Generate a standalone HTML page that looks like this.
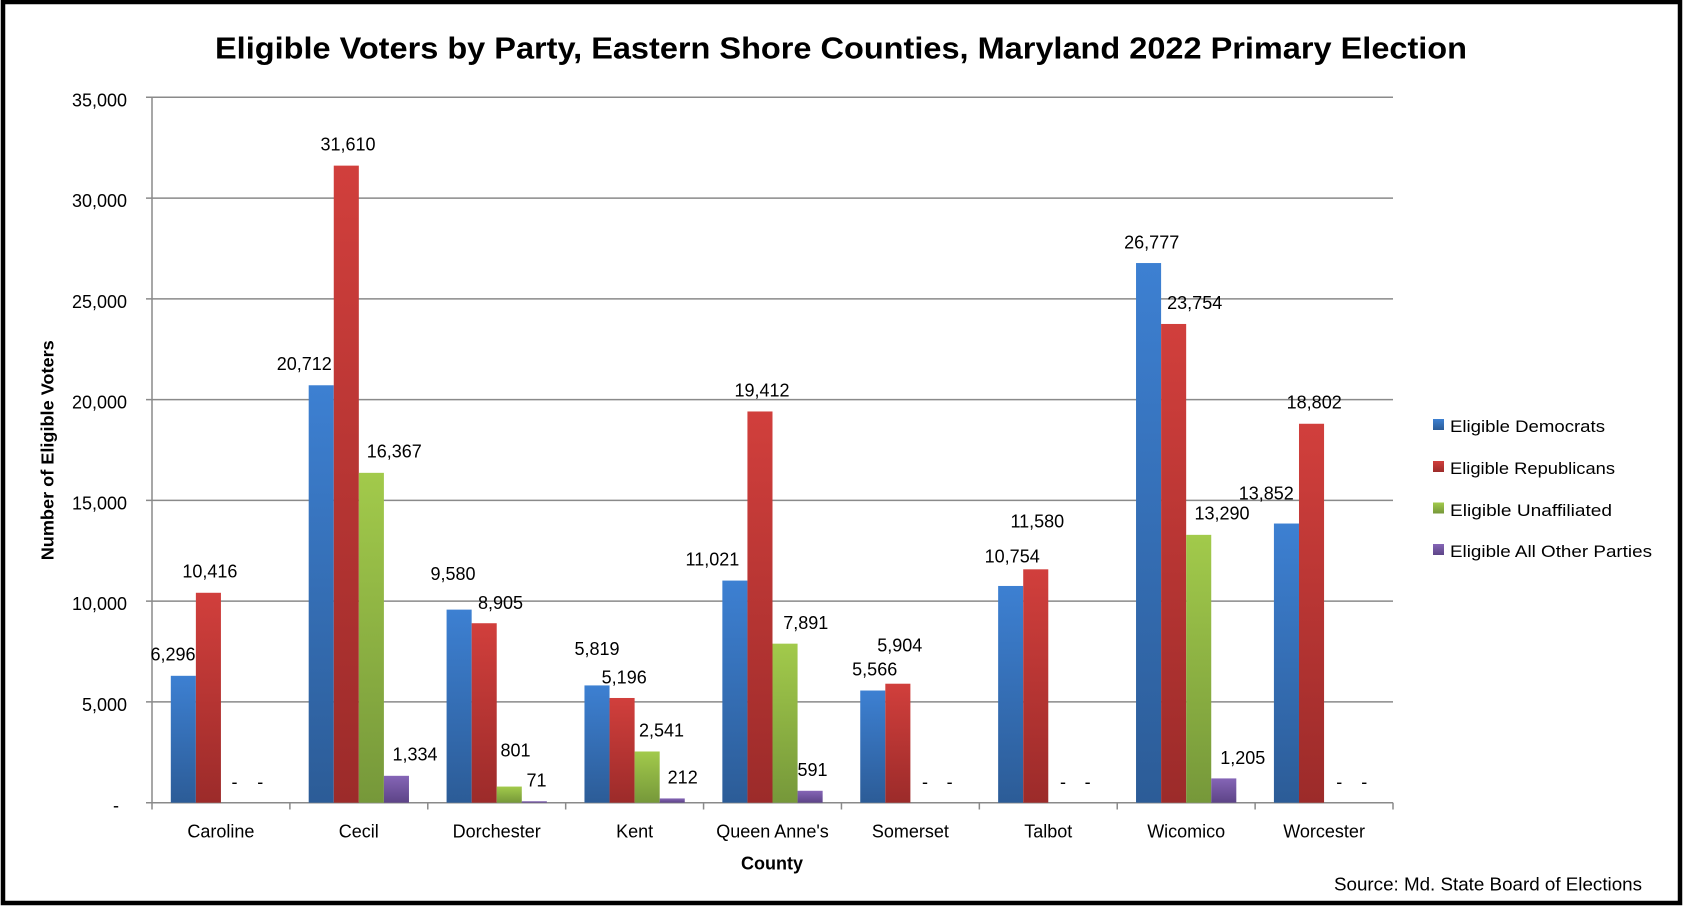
<!DOCTYPE html>
<html>
<head>
<meta charset="utf-8">
<style>
  html, body { margin:0; padding:0; background:#fff; }
  body { width:1684px; height:907px; overflow:hidden; }
  svg { display:block; }
  text { font-family: "Liberation Sans", Arial, sans-serif; fill:#000; }
</style>
</head>
<body>
<svg width="1684" height="907" viewBox="0 0 1684 907" xmlns="http://www.w3.org/2000/svg">
  <defs>
    <linearGradient id="gB" x1="0" y1="0" x2="0" y2="1">
      <stop offset="0" stop-color="#3d80d2"/>
      <stop offset="1" stop-color="#2c5c97"/>
    </linearGradient>
    <linearGradient id="gR" x1="0" y1="0" x2="0" y2="1">
      <stop offset="0" stop-color="#d13f3c"/>
      <stop offset="1" stop-color="#9c2b2a"/>
    </linearGradient>
    <linearGradient id="gG" x1="0" y1="0" x2="0" y2="1">
      <stop offset="0" stop-color="#a2ca4b"/>
      <stop offset="1" stop-color="#76983a"/>
    </linearGradient>
    <linearGradient id="gP" x1="0" y1="0" x2="0" y2="1">
      <stop offset="0" stop-color="#8565b6"/>
      <stop offset="1" stop-color="#5d4487"/>
    </linearGradient>
  </defs>

  <rect x="0" y="0" width="1684" height="907" fill="#fff"/>
  <!-- outer frame -->
  <rect x="3" y="2" width="1677" height="901" fill="none" stroke="#000" stroke-width="4.5"/>

  <!-- title -->
  <text x="215" y="58.5" font-size="31" font-weight="bold" textLength="1252" lengthAdjust="spacingAndGlyphs">Eligible Voters by Party, Eastern Shore Counties, Maryland 2022 Primary Election</text>

  <!-- gridlines -->
  <g stroke="#8a8a8a" stroke-width="1.5">
    <line x1="146" y1="97.31" x2="1393" y2="97.31"/>
    <line x1="146" y1="198.08" x2="1393" y2="198.08"/>
    <line x1="146" y1="298.85" x2="1393" y2="298.85"/>
    <line x1="146" y1="399.62" x2="1393" y2="399.62"/>
    <line x1="146" y1="500.39" x2="1393" y2="500.39"/>
    <line x1="146" y1="601.16" x2="1393" y2="601.16"/>
    <line x1="146" y1="701.93" x2="1393" y2="701.93"/>
    <line x1="146" y1="802.7" x2="1393" y2="802.7"/>
    <line x1="152" y1="97.31" x2="152" y2="809.5"/>
    <line x1="289.89" y1="802.7" x2="289.89" y2="809.5"/>
    <line x1="427.78" y1="802.7" x2="427.78" y2="809.5"/>
    <line x1="565.67" y1="802.7" x2="565.67" y2="809.5"/>
    <line x1="703.56" y1="802.7" x2="703.56" y2="809.5"/>
    <line x1="841.45" y1="802.7" x2="841.45" y2="809.5"/>
    <line x1="979.34" y1="802.7" x2="979.34" y2="809.5"/>
    <line x1="1117.23" y1="802.7" x2="1117.23" y2="809.5"/>
    <line x1="1255.12" y1="802.7" x2="1255.12" y2="809.5"/>
    <line x1="1393" y1="802.7" x2="1393" y2="809.5"/>
  </g>

  <!-- y tick labels -->
  <g font-size="18" text-anchor="end">
    <text x="127" y="106.3">35,000</text>
    <text x="127" y="207.1">30,000</text>
    <text x="127" y="307.9">25,000</text>
    <text x="127" y="408.6">20,000</text>
    <text x="127" y="509.4">15,000</text>
    <text x="127" y="610.2">10,000</text>
    <text x="127" y="710.9">5,000</text>
    <text x="119" y="811.7">-</text>
  </g>

  <!-- y axis title -->
  <text transform="translate(53.3,450.3) rotate(-90)" x="0" y="0" font-size="17.5" font-weight="bold" text-anchor="middle" textLength="220" lengthAdjust="spacingAndGlyphs">Number of Eligible Voters</text>

  <!-- bars: Democrats -->
  <g fill="url(#gB)">
    <rect x="170.8" y="675.81" width="25.07" height="126.89"/>
    <rect x="308.69" y="385.27" width="25.07" height="417.43"/>
    <rect x="446.58" y="609.62" width="25.07" height="193.08"/>
    <rect x="584.47" y="685.42" width="25.07" height="117.28"/>
    <rect x="722.36" y="580.58" width="25.07" height="222.12"/>
    <rect x="860.25" y="690.52" width="25.07" height="112.18"/>
    <rect x="998.14" y="585.96" width="25.07" height="216.74"/>
    <rect x="1136.03" y="263.04" width="25.07" height="539.66"/>
    <rect x="1273.92" y="523.53" width="25.07" height="279.17"/>
  </g>
  <!-- Republicans -->
  <g fill="url(#gR)">
    <rect x="195.87" y="592.78" width="25.07" height="209.92"/>
    <rect x="333.76" y="165.63" width="25.07" height="637.07"/>
    <rect x="471.65" y="623.23" width="25.07" height="179.47"/>
    <rect x="609.54" y="697.98" width="25.07" height="104.72"/>
    <rect x="747.43" y="411.47" width="25.07" height="391.23"/>
    <rect x="885.32" y="683.71" width="25.07" height="118.99"/>
    <rect x="1023.21" y="569.32" width="25.07" height="233.38"/>
    <rect x="1161.1" y="323.96" width="25.07" height="478.74"/>
    <rect x="1298.99" y="423.76" width="25.07" height="378.94"/>
  </g>
  <!-- Unaffiliated -->
  <g fill="url(#gG)">
    <rect x="358.83" y="472.84" width="25.07" height="329.86"/>
    <rect x="496.72" y="786.56" width="25.07" height="16.14"/>
    <rect x="634.61" y="751.49" width="25.07" height="51.21"/>
    <rect x="772.5" y="643.66" width="25.07" height="159.04"/>
    <rect x="1186.17" y="534.85" width="25.07" height="267.85"/>
  </g>
  <!-- Other -->
  <g fill="url(#gP)">
    <rect x="383.9" y="775.81" width="25.07" height="26.89"/>
    <rect x="521.79" y="801.27" width="25.07" height="1.43"/>
    <rect x="659.68" y="798.43" width="25.07" height="4.27"/>
    <rect x="797.57" y="790.79" width="25.07" height="11.91"/>
    <rect x="1211.24" y="778.41" width="25.07" height="24.29"/>
  </g>

  <!-- data labels -->
  <g font-size="18" text-anchor="middle">
    <text x="173" y="660.7">6,296</text>
    <text x="209.9" y="577.3">10,416</text>
    <text x="234.5" y="788">-</text>
    <text x="260.2" y="788">-</text>

    <text x="304.3" y="370">20,712</text>
    <text x="348" y="150.7">31,610</text>
    <text x="394.3" y="457.7">16,367</text>
    <text x="415" y="760.7">1,334</text>

    <text x="453" y="580">9,580</text>
    <text x="500.5" y="609">8,905</text>
    <text x="515.5" y="756.7">801</text>
    <text x="536.5" y="786.7">71</text>

    <text x="597" y="655">5,819</text>
    <text x="624.2" y="683.3">5,196</text>
    <text x="661.5" y="736.7">2,541</text>
    <text x="682.7" y="783.3">212</text>

    <text x="712.4" y="565.7">11,021</text>
    <text x="762" y="396.7">19,412</text>
    <text x="805.8" y="629">7,891</text>
    <text x="812.5" y="776">591</text>

    <text x="874.7" y="675.7">5,566</text>
    <text x="899.8" y="651.7">5,904</text>
    <text x="925" y="788">-</text>
    <text x="949.6" y="788">-</text>

    <text x="1012.2" y="562.7">10,754</text>
    <text x="1037.3" y="527.3">11,580</text>
    <text x="1063" y="788">-</text>
    <text x="1087.6" y="788">-</text>

    <text x="1151.7" y="248.5">26,777</text>
    <text x="1194.7" y="308.8">23,754</text>
    <text x="1222" y="519.7">13,290</text>
    <text x="1242.8" y="763.8">1,205</text>

    <text x="1266.3" y="499.3">13,852</text>
    <text x="1314.2" y="408.7">18,802</text>
    <text x="1339.3" y="788">-</text>
    <text x="1364.3" y="788">-</text>
  </g>

  <!-- category labels -->
  <g font-size="18" text-anchor="middle">
    <text x="220.9" y="837.3">Caroline</text>
    <text x="358.8" y="837.3">Cecil</text>
    <text x="496.7" y="837.3">Dorchester</text>
    <text x="634.6" y="837.3">Kent</text>
    <text x="772.5" y="837.3">Queen Anne's</text>
    <text x="910.4" y="837.3">Somerset</text>
    <text x="1048.3" y="837.3">Talbot</text>
    <text x="1186.2" y="837.3">Wicomico</text>
    <text x="1324.1" y="837.3">Worcester</text>
  </g>

  <!-- x axis title -->
  <text x="772" y="869.5" font-size="18" font-weight="bold" text-anchor="middle">County</text>

  <!-- legend -->
  <rect x="1433" y="419" width="11" height="11" fill="url(#gB)"/>
  <rect x="1433" y="461" width="11" height="11" fill="url(#gR)"/>
  <rect x="1433" y="502.5" width="11" height="11" fill="url(#gG)"/>
  <rect x="1433" y="544" width="11" height="11" fill="url(#gP)"/>
  <g font-size="17">
    <text x="1450" y="432" textLength="155" lengthAdjust="spacingAndGlyphs">Eligible Democrats</text>
    <text x="1450" y="474" textLength="165" lengthAdjust="spacingAndGlyphs">Eligible Republicans</text>
    <text x="1450" y="516" textLength="162" lengthAdjust="spacingAndGlyphs">Eligible Unaffiliated</text>
    <text x="1450" y="557" textLength="202" lengthAdjust="spacingAndGlyphs">Eligible All Other Parties</text>
  </g>

  <!-- source -->
  <text x="1334" y="890.7" font-size="18" textLength="308" lengthAdjust="spacingAndGlyphs">Source: Md. State Board of Elections</text>
</svg>
</body>
</html>
